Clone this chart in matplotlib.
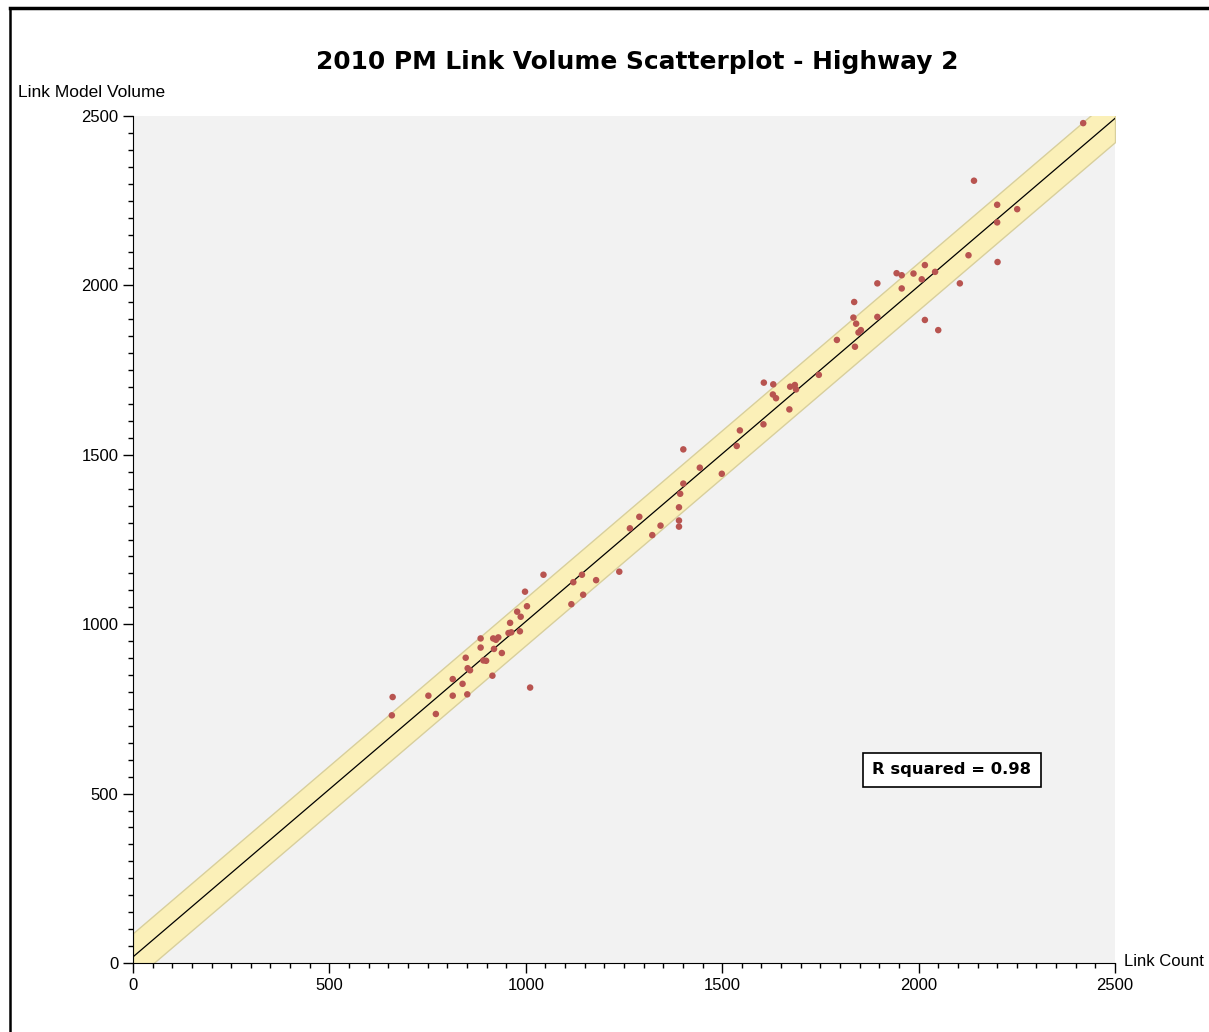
import numpy as np
import matplotlib.pyplot as plt
from matplotlib.ticker import MultipleLocator
from matplotlib.lines import Line2D

plt.rcParams['font.family'] = ['Liberation Sans', 'DejaVu Sans']

# values
link_count = [661, 659, 752, 771, 814, 851, 814, 839, 847, 852, 858, 892, 899, 915,
              885, 885, 917, 924, 930, 919, 939, 956, 963, 960, 985, 978, 987, 1003,
              998, 1011, 1045, 1116, 1146, 1121, 1143, 1179, 1238, 1605, 1545, 1537,
              1401, 1443, 1499, 1401, 1393, 1390, 1390, 1390, 1289, 1265, 1343, 1322,
              1792, 1838, 1847, 1746, 1606, 1630, 1673, 1685, 1688, 1629, 1637, 1671,
              2127, 2201, 2105, 2042, 2016, 2008, 1987, 1957, 1944, 1957, 1895, 1836,
              1895, 1834, 1841, 1853, 2016, 2050, 2419, 2141, 2200, 2251, 2200]
model_volume = [785, 731, 789, 735, 789, 793, 838, 824, 901, 870, 864, 893, 892, 848,
                958, 931, 958, 954, 961, 927, 915, 974, 976, 1004, 979, 1037, 1022, 1053,
                1096, 813, 1146, 1059, 1087, 1124, 1146, 1130, 1155, 1590, 1572, 1526,
                1516, 1462, 1444, 1415, 1385, 1345, 1306, 1288, 1317, 1283, 1291, 1263,
                1839, 1819, 1861, 1736, 1713, 1708, 1701, 1706, 1693, 1678, 1667, 1634,
                2089, 2069, 2006, 2040, 2060, 2018, 2035, 2030, 2036, 1991, 2006, 1951,
                1907, 1905, 1887, 1868, 1898, 1868, 2479, 2309, 2238, 2225, 2186]

fit_slope = 0.99
fit_intercept = 18
band_half = 70
r_squared = 0.98

W, H = 1209, 1032
fig = plt.figure(figsize=(W / 100, H / 100), dpi=100)
fig.patch.set_facecolor('white')

ax = fig.add_axes([133 / W, 1 - 963 / H, (1115 - 133) / W, (963 - 116) / H])
ax.set_facecolor('#f2f2f2')

xs = np.array([0, 2500])
fit = fit_slope * xs + fit_intercept
ax.fill_between(xs, fit - band_half, fit + band_half, facecolor='#fbf0b8',
                edgecolor='#d8cf9c', linewidth=1, zorder=1)
ax.plot(xs, fit, color='black', lw=0.9, zorder=2)
ax.scatter(link_count, model_volume, s=22, color='#b85450', edgecolors='none', zorder=3)

ax.set_xlim(0, 2500)
ax.set_ylim(0, 2500)
for s in ['top', 'right']:
    ax.spines[s].set_visible(False)
ax.xaxis.set_major_locator(MultipleLocator(500))
ax.yaxis.set_major_locator(MultipleLocator(500))
ax.xaxis.set_minor_locator(MultipleLocator(50))
ax.yaxis.set_minor_locator(MultipleLocator(50))
ax.tick_params(which='major', direction='out', length=7.5, width=1, labelsize=12, pad=3)
ax.tick_params(which='minor', direction='out', length=3.8, width=1)

fig.text(637 / W, 1 - 62 / H, '2010 PM Link Volume Scatterplot - Highway 2',
         ha='center', va='center', fontsize=17.9, fontweight='bold', family='DejaVu Sans')
fig.text(18 / W, 1 - 93 / H, 'Link Model Volume', ha='left', va='center', fontsize=12.5)
fig.text(1124 / W, 1 - 962 / H, 'Link Count', ha='left', va='center', fontsize=12)

ax.text(0.834, 0.228, 'R squared = %.2f' % r_squared, transform=ax.transAxes,
        ha='center', va='center', fontsize=11.8, fontweight='bold', family='DejaVu Sans',
        bbox=dict(boxstyle='square,pad=0.6', facecolor='white', edgecolor='black', lw=1.2))

# window frame
fig.add_artist(Line2D([10 / W, 1], [1 - 8 / H, 1 - 8 / H], color='black', lw=2.5))
fig.add_artist(Line2D([10 / W, 10 / W], [0, 1 - 8 / H], color='black', lw=1.8))

fig.savefig('out.png', dpi=100)
